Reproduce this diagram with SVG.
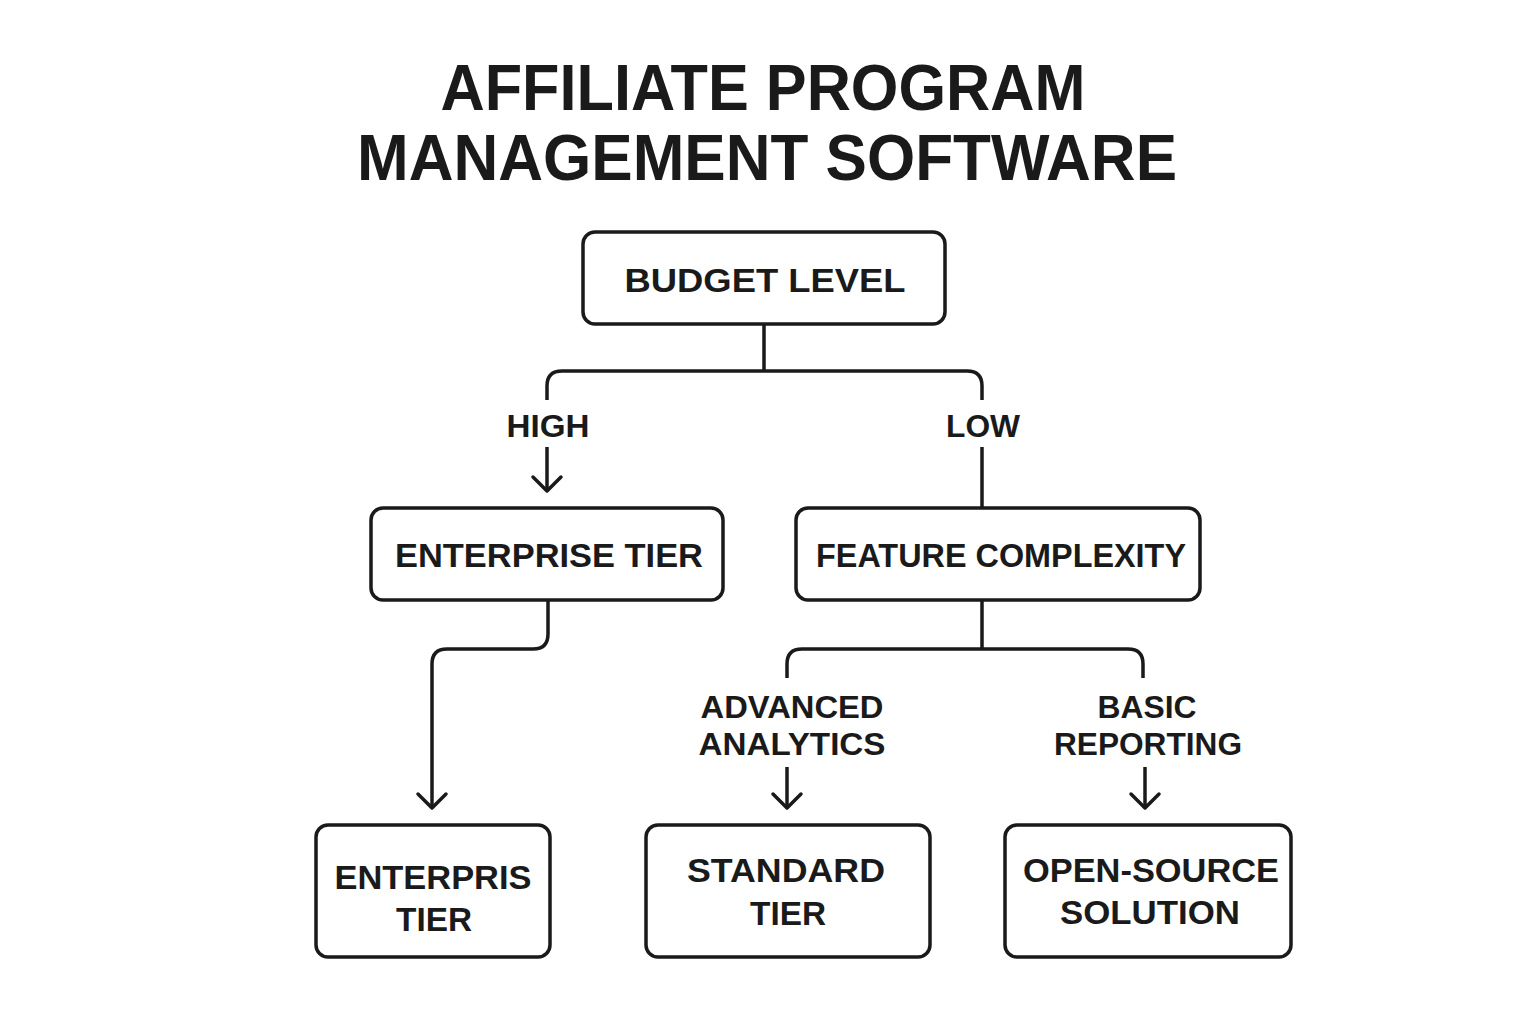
<svg xmlns="http://www.w3.org/2000/svg" width="1536" height="1024" viewBox="0 0 1536 1024">
<defs>
<style>
.box{fill:#fff;stroke:#1a1a1a;stroke-width:3.5}
.ln{fill:none;stroke:#1a1a1a;stroke-width:3.5;stroke-linejoin:round}
.t{font-family:"Liberation Sans",Arial,sans-serif;font-weight:700;fill:#1a1a1a;text-anchor:middle}
.title{font-size:64px}
.n{font-size:34px}
.lb{font-size:32px}
</style>
<marker id="ah" markerUnits="userSpaceOnUse" markerWidth="40" markerHeight="40" viewBox="-20 -20 40 40" refX="0" refY="0" orient="auto">
<path d="M-14,-14 L0,0 L-14,14" fill="none" stroke="#1a1a1a" stroke-width="3.5" stroke-linecap="round" stroke-linejoin="round"/>
</marker>
</defs>
<rect width="1536" height="1024" fill="#fff"/>
<g id="title">
<text class="t title" x="763" y="110" textLength="645" lengthAdjust="spacingAndGlyphs">AFFILIATE PROGRAM</text>
<text class="t title" x="767" y="180" textLength="820" lengthAdjust="spacingAndGlyphs">MANAGEMENT SOFTWARE</text>
</g>
<g id="connectors">
<path class="ln" d="M764,324 V371 M562,371 H967 M547,400 V386 Q547,371 562,371 M967,371 Q982,371 982,386 V400"/>
<path class="ln" d="M547,447 V491" marker-end="url(#ah)"/>
<path class="ln" d="M982,447 V508"/>
<path class="ln" d="M548,600 V634 Q548,649 533,649 H447 Q432,649 432,664 V808" marker-end="url(#ah)"/>
<path class="ln" d="M982,600 V649 M802,649 H1128 M787,678 V664 Q787,649 802,649 M1128,649 Q1143,649 1143,664 V678"/>
<path class="ln" d="M787,767 V808" marker-end="url(#ah)"/>
<path class="ln" d="M1145,767 V808" marker-end="url(#ah)"/>
<g id="lbl">
<text class="t lb" x="548" y="437" textLength="83" lengthAdjust="spacingAndGlyphs">HIGH</text>
<text class="t lb" x="983" y="437" textLength="74" lengthAdjust="spacingAndGlyphs">LOW</text>
<text class="t lb" x="792" y="718" textLength="183" lengthAdjust="spacingAndGlyphs">ADVANCED</text>
<text class="t lb" x="792" y="755" textLength="187" lengthAdjust="spacingAndGlyphs">ANALYTICS</text>
<text class="t lb" x="1147" y="718" textLength="99" lengthAdjust="spacingAndGlyphs">BASIC</text>
<text class="t lb" x="1148" y="755" textLength="188" lengthAdjust="spacingAndGlyphs">REPORTING</text>
</g>
</g>
<g id="budget">
<rect class="box" x="583" y="232" width="362" height="92" rx="12"/>
<text class="t n" x="765" y="292" textLength="281" lengthAdjust="spacingAndGlyphs">BUDGET LEVEL</text>
</g>
<g id="enterprise">
<rect class="box" x="371" y="508" width="352" height="92" rx="12"/>
<text class="t n" x="549" y="567" textLength="308" lengthAdjust="spacingAndGlyphs">ENTERPRISE TIER</text>
</g>
<g id="feature">
<rect class="box" x="796" y="508" width="404" height="92" rx="12"/>
<text class="t n" x="1001" y="567" textLength="370" lengthAdjust="spacingAndGlyphs">FEATURE COMPLEXITY</text>
</g>
<g id="enterprise2">
<rect class="box" x="316" y="825" width="234" height="132" rx="12"/>
<text class="t n" x="433" y="889" textLength="197" lengthAdjust="spacingAndGlyphs">ENTERPRIS</text>
<text class="t n" x="434" y="931" textLength="76" lengthAdjust="spacingAndGlyphs">TIER</text>
</g>
<g id="standard">
<rect class="box" x="646" y="825" width="284" height="132" rx="12"/>
<text class="t n" x="786" y="882" textLength="198" lengthAdjust="spacingAndGlyphs">STANDARD</text>
<text class="t n" x="788" y="925" textLength="76" lengthAdjust="spacingAndGlyphs">TIER</text>
</g>
<g id="opensource">
<rect class="box" x="1005" y="825" width="286" height="132" rx="12"/>
<text class="t n" x="1151" y="882" textLength="256" lengthAdjust="spacingAndGlyphs">OPEN-SOURCE</text>
<text class="t n" x="1150" y="924" textLength="180" lengthAdjust="spacingAndGlyphs">SOLUTION</text>
</g>
</svg>
